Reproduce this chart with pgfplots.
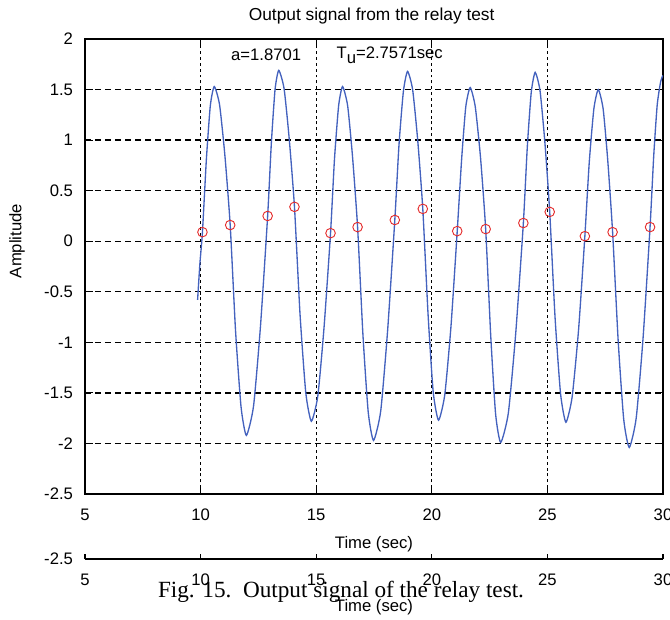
\documentclass[border=0pt]{standalone}
\usepackage{pgfplots}
\pgfplotsset{compat=1.18}
\usepackage{fontspec}
\setmainfont{Liberation Sans}
\newfontfamily\capfont{Liberation Serif}

\definecolor{sigblue}{RGB}{68,98,190}
\definecolor{ringred}{RGB}{228,45,45}

\pgfplotsset{
  relaybase/.style={
    scale only axis,
    width=433.5pt,
    xmin=5, xmax=30,
    xtick={5,10,15,20,25,30},
    xticklabels={5,10,15,20,25,30},
    tick align=inside,
    axis line style={black, line width=1.2pt},
    tick style={black, line width=0.8pt},
    tick label style={font=\fontsize{12.5}{14}\selectfont},
    xticklabel style={yshift=-7.5pt},
    yticklabel style={xshift=-5.5pt},
  },
}

\begin{document}
\begin{tikzpicture}
% second copy of the time axis, half covered by the caption
\begin{axis}[relaybase, name=ghost, at={(0pt,-48.75pt)}, anchor=south west,
  height=3.75pt, ymin=-2.5, ymax=-2.45,
  ytick={-2.5}, yticklabels={-2.5},
  axis x line*=bottom, axis y line*=box,
  major tick length=3.75pt, ytick style={draw=none}]
\end{axis}
\node[font=\fontsize{12.5}{14}\selectfont] at (216.75pt,-84.75pt) {Time (sec)};

% main axis
\begin{axis}[relaybase, name=main, at={(0pt,0pt)}, anchor=south west,
  height=341.25pt,
  ymin=-2.5, ymax=2,
  ytick={-2.5,-2,-1.5,-1,-0.5,0,0.5,1,1.5,2},
  yticklabels={-2.5,-2,-1.5,-1,-0.5,0,0.5,1,1.5,2},
  major tick length=6pt,
  xmajorgrids, ymajorgrids,
  x grid style={black, line width=1pt, dash pattern=on 2.2pt off 2.2pt},
  y grid style={black, line width=1pt, dash pattern=on 4.5pt off 3pt},
]
\addplot[sigblue, line width=1pt, smooth, tension=0.35] coordinates {
  (9.87,-0.58) (9.97,-0.22) (10.08,0.09) (10.25,0.81) (10.42,1.34) (10.59,1.53)
  (10.82,1.35) (11.05,0.85) (11.28,0.16) (11.51,-0.88) (11.75,-1.64) (11.98,-1.92)
  (12.29,-1.63) (12.59,-0.84) (12.90,0.25) (13.06,0.97) (13.22,1.50) (13.38,1.69)
  (13.61,1.51) (13.83,1.02) (14.06,0.34) (14.30,-0.72) (14.55,-1.50) (14.79,-1.78)
  (15.07,-1.53) (15.34,-0.85) (15.62,0.08) (15.79,0.81) (15.97,1.34) (16.14,1.53)
  (16.36,1.34) (16.57,0.84) (16.79,0.14) (17.02,-0.92) (17.25,-1.69) (17.48,-1.97)
  (17.79,-1.68) (18.09,-0.88) (18.40,0.21) (18.58,0.95) (18.77,1.48) (18.95,1.68)
  (19.17,1.50) (19.39,1.00) (19.61,0.32) (19.84,-0.73) (20.06,-1.49) (20.29,-1.77)
  (20.56,-1.52) (20.83,-0.84) (21.10,0.10) (21.29,0.81) (21.47,1.33) (21.66,1.52)
  (21.88,1.33) (22.11,0.82) (22.33,0.12) (22.55,-0.94) (22.76,-1.71) (22.98,-1.99)
  (23.31,-1.70) (23.63,-0.91) (23.96,0.18) (24.13,0.93) (24.30,1.47) (24.47,1.67)
  (24.68,1.49) (24.89,0.98) (25.10,0.29) (25.33,-0.75) (25.57,-1.51) (25.80,-1.79)
  (26.07,-1.54) (26.35,-0.87) (26.62,0.05) (26.81,0.78) (27.01,1.31) (27.20,1.50)
  (27.41,1.31) (27.61,0.80) (27.82,0.09) (28.06,-0.98) (28.30,-1.76) (28.54,-2.04)
  (28.84,-1.75) (29.14,-0.95) (29.44,0.14) (29.60,0.85) (29.75,1.35) (29.90,1.58)
  (30.00,1.64)
};
\addplot[only marks, mark=o, mark size=3.6pt, mark options={ringred, line width=0.7pt}] coordinates {
  (10.08,0.09) (11.28,0.16) (12.90,0.25) (14.06,0.34) (15.62,0.08)
  (16.79,0.14) (18.40,0.21) (19.61,0.32) (21.10,0.10) (22.33,0.12)
  (23.96,0.18) (25.10,0.29) (26.62,0.05) (27.82,0.09) (29.44,0.14)
};
\node[anchor=west, font=\fontsize{12.5}{14}\selectfont] at (axis cs:11.12,1.84) {a=1.8701};
\node[anchor=west, font=\fontsize{12.5}{14}\selectfont] at (axis cs:15.68,1.84)
  {T\raisebox{-3.5pt}{u}=2.7571sec};
\end{axis}

\node[font=\fontsize{13}{15}\selectfont] at (215pt,358.5pt) {Output signal from the relay test};
\node[font=\fontsize{12.5}{14}\selectfont] at (216.75pt,-37.5pt) {Time (sec)};
\node[font=\fontsize{12.5}{14}\selectfont, rotate=90] at (-51pt,189.75pt) {Amplitude};
\node[font=\capfont\fontsize{17.4}{20}\selectfont, anchor=base] at (192pt,-77.25pt)
  {Fig. 15.\ \ Output signal of the relay test.};

\pgfresetboundingbox
\path[use as bounding box] (-63.75pt,-93.75pt) rectangle (438.75pt,370.5pt);
\end{tikzpicture}
\end{document}
